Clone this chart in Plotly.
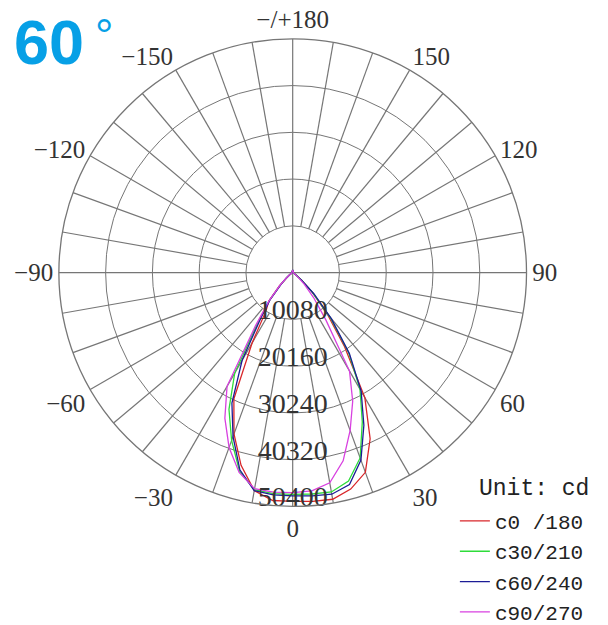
import plotly.graph_objects as go

# ---- data ----
angles = [-180, -90, -60, -55, -50, -45, -40, -35, -30, -25, -20, -15, -10, -5, 0,
          5, 10, 15, 20, 25, 30, 35, 40, 45, 50, 55, 60, 90, 180]

c0_180 = [500, 200, 300, 800, 1500, 4000, 8000, 10000, 17500, 30000, 37000, 43000, 47700, 49300, 49300,
          49500, 49600, 48300, 45800, 39500, 31100, 19500, 11500, 6000, 2500, 800, 300, 200, 500]
c30_210 = [600, 200, 300, 800, 1800, 3800, 7800, 13000, 25000, 32500, 38500, 44300, 47500, 47800, 47800,
           47900, 48000, 46500, 42500, 35500, 29000, 21000, 12500, 6000, 2300, 800, 300, 200, 600]
c60_240 = [600, 200, 300, 800, 1700, 3500, 7500, 12000, 21800, 31000, 37600, 44000, 47700, 48100, 48100,
           48300, 48500, 47300, 43000, 36300, 29500, 21300, 13000, 6500, 2500, 800, 300, 200, 600]
c90_270 = [600, 200, 300, 800, 1800, 4000, 8000, 14000, 28300, 34600, 40100, 44600, 47300, 47500, 47400,
           47200, 46000, 42000, 36200, 30600, 24500, 12500, 7000, 3500, 1500, 600, 300, 200, 600]

series_names = ["c0 /180", "c30/210", "c60/240", "c90/270"]
series_colors = ["#d8262a", "#2edc3a", "#1c1c96", "#d841e0"]

ring_values = [10080, 20160, 30240, 40320, 50400]
ring_labels = ["10080", "20160", "30240", "40320", "50400"]

angle_tickvals = [0, 30, 60, 90, 120, 150, 180, 210, 240, 270, 300, 330]
angle_ticktext = ["0", "30", "60", "90", "120", "150", "\u2212/+180", "\u2212150", "\u2212120",
                  "\u221290", "\u221260", "\u221230"]

spoke_step = 10
r_max = ring_values[-1]
r_inner = ring_values[0]

fig = go.Figure()

# spokes (angular grid that starts at inner ring, except the axes)
sp_theta, sp_r = [], []
for a in range(0, 360, spoke_step):
    start = 0 if a % 90 == 0 else r_inner
    sp_theta += [a, a, None]
    sp_r += [start, r_max, None]
fig.add_trace(go.Scatterpolar(theta=sp_theta, r=sp_r, mode="lines",
                              line=dict(color="#767676", width=1.2),
                              showlegend=False, hoverinfo="skip"))

for name, vals, col in zip(series_names, [c0_180, c30_210, c60_240, c90_270], series_colors):
    fig.add_trace(go.Scatterpolar(theta=angles, r=vals, mode="lines", name=name,
                                  line=dict(color=col, width=1.3)))

# radial value labels along the 0 direction, sitting just inside each ring
label_offset = 0.03 * r_max
fig.add_trace(go.Scatterpolar(theta=[0] * len(ring_values), r=[v - label_offset for v in ring_values],
                              mode="text", text=ring_labels, textposition="middle center",
                              textfont=dict(family="Liberation Serif", size=28, color="#333333"),
                              showlegend=False, hoverinfo="skip"))

fig.update_layout(
    width=608, height=625,
    margin=dict(l=0, r=0, t=0, b=0),
    paper_bgcolor="white",
    plot_bgcolor="white",
    polar=dict(
        domain=dict(x=[0.0772, 0.8593], y=[0.1908, 0.950]),
        bgcolor="white",
        radialaxis=dict(range=[0, r_max], tickvals=ring_values[:-1], showticklabels=False,
                        ticks="", showline=False, showgrid=True,
                        gridcolor="#767676", gridwidth=1.2),
        angularaxis=dict(rotation=270, direction="counterclockwise",
                         tickvals=angle_tickvals, ticktext=angle_ticktext,
                         ticks="", showgrid=False, showline=True,
                         linecolor="#767676", linewidth=1.3,
                         tickfont=dict(family="Liberation Serif", size=25, color="#333333")),
    ),
    legend=dict(x=0.735, y=0.2, xanchor="left", yanchor="top",
                bgcolor="rgba(0,0,0,0)", itemwidth=30, tracegroupgap=0,
                font=dict(family="Liberation Mono", size=21, color="#222222")),
    annotations=[
        dict(text="Unit: cd", x=0.772, y=0.219, xref="paper", yref="paper",
             xanchor="left", yanchor="middle", showarrow=False,
             font=dict(family="Liberation Mono", size=23, color="#222222")),
        dict(text="<b>60</b>", x=0.007, y=1.0, xref="paper", yref="paper",
             xanchor="left", yanchor="top", yshift=3, showarrow=False,
             font=dict(family="Liberation Sans", size=63, color="#07a0e6")),
        dict(text="°", x=0.139, y=1.0, xref="paper", yref="paper",
             xanchor="left", yanchor="top", showarrow=False,
             font=dict(family="Liberation Sans", size=46, color="#07a0e6")),
    ],
)

fig.write_html("out.html")
